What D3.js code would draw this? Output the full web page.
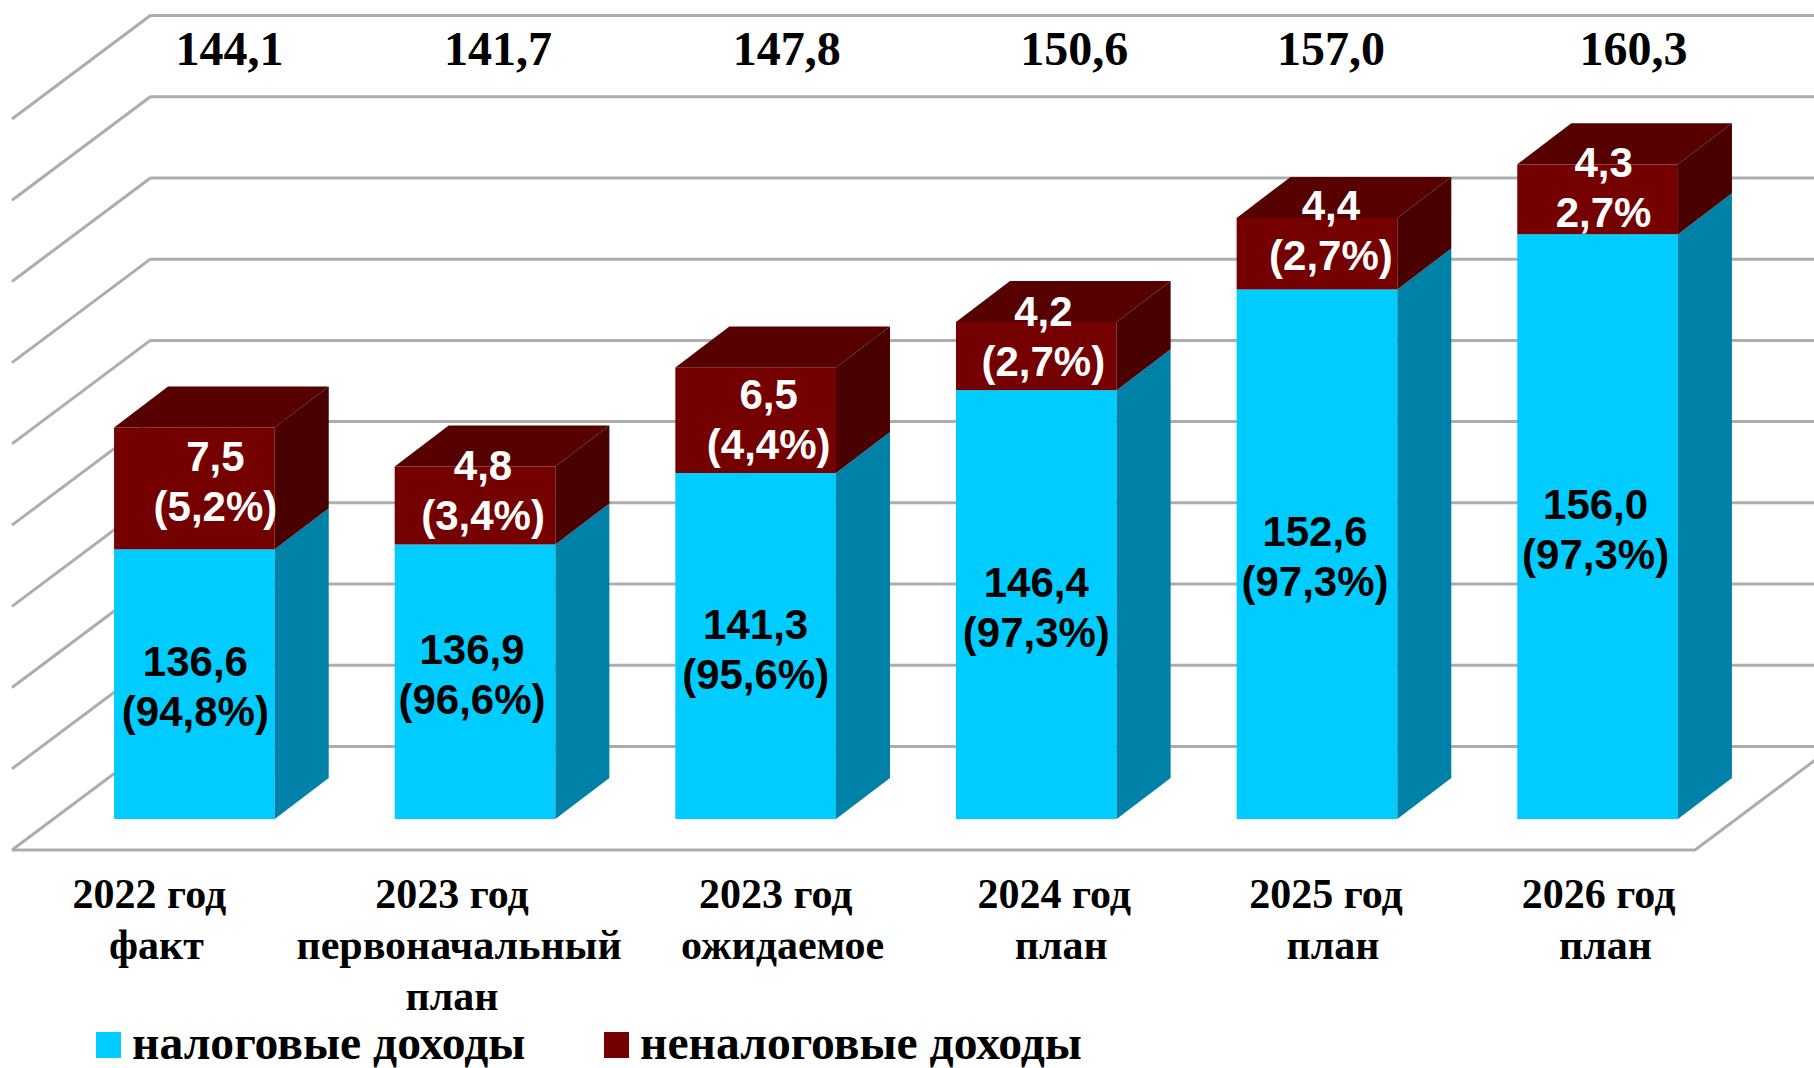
<!DOCTYPE html>
<html>
<head>
<meta charset="utf-8">
<script src="https://cdn.jsdelivr.net/npm/d3@7"></script>
<style>
  body { margin: 0; background: #fff; }
  svg { display: block; }
  .serif { font-family: "Liberation Serif", serif; font-weight: bold; fill: #000; }
  .sans { font-family: "Liberation Sans", sans-serif; font-weight: bold; }
</style>
</head>
<body>
<svg width="1814" height="1068"></svg>
<script>
const categories = [
    ['2022 год', 'факт'],
    ['2023 год', 'первоначальный', 'план'],
    ['2023 год', 'ожидаемое'],
    ['2024 год', 'план'],
    ['2025 год', 'план'],
    ['2026 год', 'план']
];
const taxValues = [136.6, 136.9, 141.3, 146.4, 152.6, 156.0];
const nonTaxValues = [7.5, 4.8, 6.5, 4.2, 4.4, 4.3];
const totalLabels = ['144,1', '141,7', '147,8', '150,6', '157,0', '160,3'];
const taxLabels = [['136,6', '(94,8%)'], ['136,9', '(96,6%)'], ['141,3', '(95,6%)'], ['146,4', '(97,3%)'], ['152,6', '(97,3%)'], ['156,0', '(97,3%)']];
const nonTaxLabels = [['7,5', '(5,2%)'], ['4,8', '(3,4%)'], ['6,5', '(4,4%)'], ['4,2', '(2,7%)'], ['4,4', '(2,7%)'], ['4,3', '2,7%']];
const seriesNames = ['налоговые доходы', 'неналоговые доходы'];
const axisTicks = [120, 125, 130, 135, 140, 145, 150, 155, 160, 165];

const svg = d3.select('svg');
const width = +svg.attr('width');

const gridColor = '#adadad';
const taxColors = { front: '#00ccff', side: '#0082a8' };
const nonTaxColors = { front: '#750000', side: '#480000', top: '#560000' };

// depth of the 3d floor and of a single bar
const floorDepth = { x: 139, y: 104 };
const barDepth = { x: 54, y: 41 };

const frontBase = 819;
const y = d3.scaleLinear().domain([120, 165]).range([frontBase, frontBase - 731]);
const yBack = d3.scaleLinear().domain([120, 165]).range([746, 15]);

const x = d3.scaleBand()
    .domain(d3.range(categories.length))
    .range([54, 1738])
    .paddingInner(0.4275)
    .paddingOuter(0.214);

const wallLeft = 151;
const floorFrontY = 850;
const floorFrontLeft = wallLeft - floorDepth.x;
const floorFrontRight = 1695;

// back wall grid
const backAxis = d3.axisLeft(yBack)
    .tickValues(axisTicks)
    .tickSize(-(width - wallLeft))
    .tickFormat('');

const backG = svg.append('g')
    .attr('transform', `translate(${wallLeft}, 0)`)
    .call(backAxis);
backG.select('.domain').remove();
backG.selectAll('line').attr('stroke', gridColor).attr('stroke-width', 3);

// side wall grid
svg.selectAll('.side-grid').data(axisTicks)
    .enter().append('line')
    .attr('class', 'side-grid')
    .attr('x1', wallLeft)
    .attr('y1', d => yBack(d))
    .attr('x2', floorFrontLeft)
    .attr('y2', d => yBack(d) + floorDepth.y)
    .attr('stroke', gridColor)
    .attr('stroke-width', 3);

// floor
svg.append('path')
    .attr('d', d3.line()([
        [floorFrontLeft, floorFrontY],
        [floorFrontRight, floorFrontY],
        [floorFrontRight + floorDepth.x, floorFrontY - floorDepth.y]
    ]))
    .attr('fill', 'none')
    .attr('stroke', gridColor)
    .attr('stroke-width', 3);

const poly = points => d3.line()(points) + 'Z';

const bars = svg.selectAll('.bar').data(categories)
    .enter().append('g')
    .attr('class', 'bar');

const bw = x.bandwidth();

const sidePoints = (i, v0, v1) => {
    const r = x(i) + bw;
    return [[r, y(v0)], [r + barDepth.x, y(v0) - barDepth.y], [r + barDepth.x, y(v1) - barDepth.y], [r, y(v1)]];
};

// tax part
bars.append('rect')
    .attr('x', (d, i) => x(i))
    .attr('y', (d, i) => y(taxValues[i]))
    .attr('width', bw)
    .attr('height', (d, i) => y(120) - y(taxValues[i]))
    .attr('fill', taxColors.front);

bars.append('path')
    .attr('d', (d, i) => poly(sidePoints(i, 120, taxValues[i])))
    .attr('fill', taxColors.side);

// non-tax part
const topOf = i => taxValues[i] + nonTaxValues[i];

bars.append('rect')
    .attr('x', (d, i) => x(i))
    .attr('y', (d, i) => y(topOf(i)))
    .attr('width', bw)
    .attr('height', (d, i) => y(taxValues[i]) - y(topOf(i)))
    .attr('fill', nonTaxColors.front);

bars.append('path')
    .attr('d', (d, i) => poly(sidePoints(i, taxValues[i], topOf(i))))
    .attr('fill', nonTaxColors.side);

bars.append('path')
    .attr('d', (d, i) => poly([
        [x(i), y(topOf(i))],
        [x(i) + barDepth.x, y(topOf(i)) - barDepth.y],
        [x(i) + bw + barDepth.x, y(topOf(i)) - barDepth.y],
        [x(i) + bw, y(topOf(i))]
    ]))
    .attr('fill', nonTaxColors.top);

// hand placed labels in the source, so they get their own nudges from the bar centre
const center = i => x(i) + bw / 2;
const taxDx = [1, -3, 0, 0, -2, -2];
const taxDy = [-8, -18, -7, -8, -8, -8];
const nonTaxDx = [21, 8, 13, 7, 14, 6];
const nonTaxDy = [-17, -25, -11, -30, -34, -22];
const totalDx = [35, 23, 31, 38, 14, 36];
const categoryDx = [-45, -23, 20, 18, 9, 1];
const categoryLineDx = [0, 7, 0];

const lineHeight = 50;
const labelSize = 42;

const drawLines = (cls, labels, midY, dxs, fill) => {
    const g = svg.selectAll('.' + cls).data(labels)
        .enter().append('text')
        .attr('class', 'sans ' + cls)
        .attr('text-anchor', 'middle')
        .attr('font-size', labelSize)
        .attr('fill', fill);
    g.selectAll('tspan').data((d, i) => d.map(t => ({ t, i })))
        .enter().append('tspan')
        .attr('x', d => center(d.i) + dxs[d.i])
        .attr('y', (d, j) => midY(d.i) + j * lineHeight)
        .text(d => d.t);
};

drawLines('tax-label', taxLabels, i => (y(120) + y(taxValues[i])) / 2 + taxDy[i], taxDx, '#000');
drawLines('nontax-label', nonTaxLabels, i => (y(taxValues[i]) + y(topOf(i))) / 2 + nonTaxDy[i], nonTaxDx, '#fff');

// totals above the chart
svg.selectAll('.total').data(totalLabels)
    .enter().append('text')
    .attr('class', 'serif total')
    .attr('text-anchor', 'middle')
    .attr('font-size', 48)
    .attr('x', (d, i) => center(i) + totalDx[i])
    .attr('y', 65)
    .text(d => d);

// category labels
const catG = svg.selectAll('.category').data(categories)
    .enter().append('text')
    .attr('class', 'serif category')
    .attr('text-anchor', 'middle')
    .attr('font-size', 42);

catG.selectAll('tspan').data((d, i) => d.map(t => ({ t, i })))
    .enter().append('tspan')
    .attr('x', (d, j) => center(d.i) + categoryDx[d.i] + categoryLineDx[j])
    .attr('y', (d, j) => 908 + j * 51)
    .text(d => d.t);

// legend
const legendX = [96, 604];
const legendColors = [taxColors.front, nonTaxColors.front];
const legend = svg.selectAll('.legend').data(seriesNames)
    .enter().append('g')
    .attr('class', 'legend')
    .attr('transform', (d, i) => `translate(${legendX[i]}, 1032)`);

legend.append('rect')
    .attr('width', 25)
    .attr('height', 26)
    .attr('fill', (d, i) => legendColors[i]);

legend.append('text')
    .attr('class', 'serif')
    .attr('x', 36)
    .attr('y', 27)
    .attr('font-size', 47.6)
    .text(d => d);
</script>
</body>
</html>
